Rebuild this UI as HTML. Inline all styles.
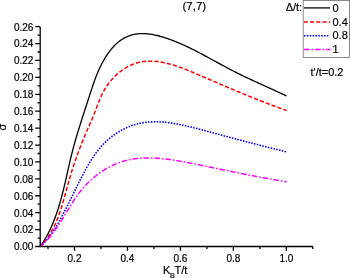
<!DOCTYPE html>
<html><head><meta charset="utf-8"><style>
html,body{margin:0;padding:0;background:#fff;width:350px;height:278px;overflow:hidden}
svg{display:block;will-change:transform}
text{font-family:"Liberation Sans",sans-serif;font-size:10px;fill:#000;stroke:#000;stroke-width:0.2px}
.b{font-size:11px}
</style></head><body>
<svg width="350" height="278" viewBox="0 0 350 278">
<g fill="none" stroke-linejoin="round">
<polyline points="40.31,246.40 40.89,245.56 41.47,244.72 42.03,243.86 42.59,243.01 43.14,242.15 43.68,241.29 44.21,240.42 44.73,239.55 45.25,238.68 45.76,237.81 46.25,236.92 46.74,236.04 47.23,235.15 47.70,234.26 48.17,233.37 48.63,232.47 49.08,231.57 49.53,230.67 49.96,229.76 50.39,228.85 50.82,227.94 51.24,227.02 51.65,226.10 52.05,225.18 52.45,224.26 52.84,223.33 53.22,222.40 53.60,221.47 53.97,220.53 54.34,219.59 54.70,218.65 55.06,217.71 55.41,216.77 55.75,215.82 56.09,214.87 56.43,213.92 56.76,212.96 57.08,212.01 57.40,211.05 57.71,210.09 58.02,209.13 58.33,208.16 58.63,207.20 58.93,206.23 59.22,205.26 59.51,204.29 59.80,203.31 60.08,202.34 60.36,201.36 60.63,200.39 60.90,199.41 61.17,198.43 61.44,197.45 61.70,196.46 61.96,195.48 62.21,194.49 62.47,193.51 62.72,192.52 62.97,191.53 63.21,190.54 63.46,189.55 63.70,188.56 63.94,187.57 64.18,186.58 64.42,185.58 64.65,184.59 64.88,183.60 65.12,182.60 65.35,181.61 65.58,180.61 65.81,179.61 66.03,178.62 66.26,177.62 66.49,176.62 66.71,175.63 66.94,174.63 67.16,173.63 67.39,172.64 67.62,171.64 67.84,170.64 68.07,169.64 68.29,168.65 68.52,167.65 68.74,166.66 68.97,165.66 69.20,164.67 69.43,163.67 69.66,162.68 69.89,161.68 70.12,160.69 70.36,159.70 70.59,158.71 70.83,157.72 71.07,156.73 71.31,155.74 71.55,154.75 71.80,153.76 72.04,152.78 72.29,151.79 72.54,150.81 72.80,149.83 73.05,148.85 73.31,147.87 73.58,146.89 73.84,145.91 74.11,144.94 74.38,143.96 74.65,142.99 74.92,142.01 75.20,141.04 75.48,140.07 75.76,139.10 76.04,138.13 76.32,137.16 76.61,136.19 76.90,135.23 77.19,134.26 77.48,133.29 77.77,132.33 78.07,131.36 78.36,130.40 78.66,129.44 78.96,128.47 79.26,127.51 79.56,126.55 79.86,125.58 80.17,124.62 80.47,123.66 80.78,122.70 81.08,121.73 81.39,120.77 81.70,119.81 82.01,118.85 82.32,117.89 82.63,116.92 82.94,115.96 83.25,115.00 83.57,114.04 83.88,113.07 84.19,112.11 84.50,111.15 84.82,110.18 85.13,109.22 85.45,108.25 85.76,107.29 86.07,106.32 86.39,105.35 86.70,104.39 87.01,103.42 87.33,102.45 87.64,101.48 87.95,100.51 88.26,99.54 88.57,98.56 88.88,97.59 89.20,96.62 89.51,95.64 89.82,94.67 90.13,93.70 90.45,92.72 90.76,91.75 91.08,90.77 91.40,89.80 91.72,88.83 92.04,87.86 92.37,86.89 92.70,85.92 93.03,84.95 93.36,83.98 93.70,83.02 94.04,82.06 94.39,81.10 94.73,80.14 95.09,79.18 95.45,78.23 95.81,77.27 96.18,76.32 96.55,75.38 96.93,74.43 97.32,73.49 97.71,72.56 98.10,71.62 98.51,70.69 98.92,69.77 99.33,68.84 99.76,67.92 100.19,67.01 100.63,66.10 101.08,65.19 101.53,64.29 102.00,63.40 102.47,62.51 102.95,61.62 103.44,60.74 103.94,59.86 104.45,58.99 104.97,58.13 105.49,57.27 106.03,56.42 106.58,55.57 107.14,54.73 107.71,53.89 108.30,53.07 108.89,52.25 109.49,51.43 110.11,50.63 110.74,49.83 111.38,49.04 112.04,48.26 112.71,47.49 113.39,46.74 114.08,45.99 114.80,45.26 115.52,44.55 116.26,43.85 117.02,43.17 117.79,42.50 118.58,41.86 119.38,41.23 120.20,40.62 121.04,40.03 121.90,39.47 122.77,38.93 123.66,38.41 124.57,37.91 125.48,37.44 126.41,37.00 127.35,36.58 128.29,36.19 129.25,35.83 130.21,35.49 131.18,35.18 132.15,34.90 133.12,34.65 134.10,34.43 135.08,34.23 136.06,34.07 137.05,33.92 138.04,33.81 139.03,33.71 140.02,33.65 141.02,33.60 142.01,33.58 143.01,33.58 144.01,33.60 145.01,33.64 146.01,33.70 147.01,33.78 148.02,33.88 149.02,34.00 150.02,34.13 151.02,34.28 152.03,34.45 153.03,34.63 154.03,34.83 155.03,35.04 156.02,35.26 157.02,35.50 158.02,35.74 159.01,36.00 160.00,36.27 160.99,36.55 161.98,36.84 162.96,37.13 163.94,37.44 164.92,37.75 165.90,38.07 166.87,38.39 167.84,38.72 168.80,39.06 169.76,39.40 170.72,39.75 171.68,40.10 172.63,40.46 173.58,40.82 174.53,41.19 175.47,41.57 176.42,41.95 177.36,42.33 178.29,42.72 179.23,43.12 180.16,43.52 181.09,43.92 182.02,44.33 182.95,44.74 183.87,45.16 184.79,45.58 185.71,46.00 186.63,46.43 187.55,46.86 188.46,47.30 189.37,47.74 190.28,48.18 191.19,48.62 192.10,49.07 193.01,49.52 193.91,49.98 194.82,50.43 195.72,50.89 196.62,51.36 197.52,51.82 198.42,52.29 199.32,52.76 200.21,53.23 201.11,53.70 202.00,54.17 202.90,54.65 203.79,55.13 204.68,55.61 205.57,56.09 206.47,56.57 207.36,57.05 208.25,57.54 209.14,58.02 210.03,58.51 210.92,58.99 211.81,59.48 212.70,59.97 213.58,60.45 214.47,60.94 215.36,61.43 216.25,61.92 217.14,62.40 218.03,62.89 218.92,63.38 219.81,63.86 220.71,64.35 221.60,64.83 222.49,65.31 223.38,65.80 224.28,66.28 225.17,66.76 226.07,67.24 226.96,67.71 227.86,68.19 228.76,68.66 229.66,69.14 230.56,69.61 231.46,70.07 232.36,70.54 233.27,71.00 234.17,71.47 235.08,71.92 235.99,72.38 236.90,72.84 237.81,73.29 238.72,73.74 239.63,74.19 240.54,74.64 241.46,75.08 242.37,75.53 243.29,75.97 244.21,76.41 245.12,76.85 246.04,77.29 246.96,77.72 247.88,78.16 248.80,78.59 249.72,79.02 250.64,79.45 251.57,79.89 252.49,80.31 253.41,80.74 254.34,81.17 255.26,81.60 256.19,82.02 257.11,82.45 258.03,82.87 258.96,83.29 259.88,83.72 260.81,84.14 261.74,84.56 262.66,84.98 263.59,85.40 264.51,85.82 265.44,86.24 266.36,86.67 267.29,87.09 268.21,87.51 269.14,87.93 270.06,88.35 270.98,88.77 271.91,89.19 272.83,89.61 273.75,90.03 274.68,90.45 275.60,90.88 276.52,91.30 277.44,91.72 278.36,92.15 279.28,92.57 280.20,93.00 281.11,93.42 282.03,93.85 282.95,94.28 283.86,94.71 284.77,95.14 285.69,95.57 286.60,96.00" stroke="#000" stroke-width="1.3"/>
<polyline points="40.20,246.50 40.87,245.81 41.52,245.12 42.17,244.42 42.80,243.71 43.42,243.00 44.02,242.28 44.62,241.55 45.20,240.82 45.77,240.08 46.34,239.34 46.89,238.59 47.43,237.83 47.96,237.07 48.48,236.30 48.99,235.53 49.49,234.75 49.98,233.97 50.46,233.18 50.93,232.39 51.39,231.59 51.84,230.79 52.29,229.99 52.72,229.17 53.15,228.36 53.57,227.54 53.98,226.71 54.38,225.89 54.78,225.05 55.17,224.22 55.55,223.38 55.92,222.53 56.29,221.69 56.65,220.84 57.01,219.98 57.35,219.12 57.70,218.26 58.03,217.40 58.36,216.53 58.69,215.66 59.01,214.79 59.32,213.92 59.63,213.04 59.93,212.16 60.23,211.27 60.53,210.39 60.82,209.50 61.11,208.61 61.39,207.72 61.67,206.83 61.94,205.93 62.22,205.04 62.49,204.14 62.75,203.24 63.02,202.34 63.28,201.44 63.54,200.53 63.79,199.63 64.05,198.72 64.30,197.82 64.55,196.91 64.80,196.00 65.05,195.10 65.30,194.19 65.54,193.28 65.79,192.37 66.04,191.46 66.28,190.55 66.53,189.64 66.77,188.73 67.02,187.82 67.26,186.92 67.51,186.01 67.76,185.10 68.01,184.19 68.26,183.29 68.51,182.38 68.76,181.48 69.02,180.58 69.27,179.68 69.53,178.78 69.79,177.88 70.06,176.98 70.32,176.08 70.59,175.19 70.86,174.29 71.13,173.40 71.40,172.51 71.68,171.62 71.96,170.73 72.24,169.84 72.52,168.95 72.80,168.07 73.09,167.18 73.38,166.30 73.67,165.41 73.96,164.53 74.25,163.65 74.55,162.77 74.85,161.89 75.15,161.01 75.45,160.14 75.76,159.26 76.06,158.38 76.37,157.51 76.68,156.64 77.00,155.76 77.31,154.89 77.63,154.02 77.95,153.15 78.27,152.28 78.59,151.41 78.92,150.54 79.25,149.67 79.58,148.81 79.91,147.94 80.24,147.07 80.58,146.21 80.91,145.34 81.25,144.48 81.59,143.62 81.94,142.75 82.28,141.89 82.63,141.03 82.98,140.17 83.33,139.31 83.69,138.45 84.04,137.59 84.40,136.73 84.76,135.87 85.12,135.01 85.48,134.15 85.85,133.30 86.21,132.44 86.58,131.58 86.96,130.72 87.33,129.87 87.70,129.01 88.08,128.15 88.46,127.30 88.84,126.44 89.21,125.59 89.59,124.73 89.97,123.87 90.35,123.01 90.72,122.16 91.10,121.30 91.47,120.44 91.84,119.58 92.20,118.72 92.57,117.86 92.93,116.99 93.28,116.13 93.63,115.26 93.98,114.39 94.32,113.53 94.66,112.66 95.00,111.79 95.33,110.92 95.66,110.05 95.99,109.18 96.31,108.30 96.64,107.43 96.97,106.57 97.30,105.70 97.63,104.83 97.96,103.96 98.30,103.10 98.63,102.24 98.98,101.38 99.32,100.52 99.68,99.67 100.03,98.82 100.40,97.97 100.77,97.12 101.14,96.28 101.53,95.44 101.92,94.61 102.33,93.78 102.74,92.96 103.16,92.14 103.60,91.32 104.04,90.51 104.50,89.71 104.97,88.91 105.46,88.12 105.95,87.34 106.46,86.56 106.98,85.78 107.51,85.02 108.05,84.26 108.61,83.51 109.18,82.76 109.76,82.02 110.35,81.29 110.95,80.57 111.57,79.85 112.20,79.15 112.84,78.45 113.49,77.76 114.15,77.07 114.83,76.40 115.52,75.74 116.22,75.08 116.93,74.43 117.65,73.79 118.39,73.17 119.14,72.55 119.90,71.94 120.66,71.34 121.44,70.76 122.23,70.19 123.02,69.63 123.82,69.09 124.63,68.56 125.45,68.05 126.27,67.55 127.10,67.07 127.94,66.61 128.77,66.17 129.61,65.74 130.46,65.34 131.31,64.95 132.16,64.59 133.01,64.25 133.86,63.92 134.72,63.62 135.58,63.33 136.44,63.06 137.31,62.81 138.17,62.58 139.04,62.37 139.91,62.18 140.79,62.00 141.66,61.84 142.54,61.70 143.42,61.57 144.30,61.46 145.18,61.37 146.06,61.29 146.95,61.23 147.84,61.18 148.73,61.15 149.62,61.13 150.51,61.13 151.40,61.14 152.30,61.17 153.19,61.21 154.09,61.26 154.99,61.33 155.89,61.41 156.79,61.50 157.69,61.60 158.59,61.72 159.49,61.85 160.40,61.99 161.30,62.14 162.21,62.30 163.12,62.47 164.02,62.66 164.93,62.85 165.84,63.05 166.75,63.27 167.66,63.49 168.56,63.72 169.47,63.96 170.38,64.21 171.29,64.47 172.20,64.73 173.11,65.01 174.02,65.29 174.93,65.58 175.84,65.87 176.75,66.17 177.66,66.48 178.57,66.80 179.48,67.12 180.39,67.44 181.30,67.77 182.21,68.11 183.11,68.45 184.02,68.80 184.92,69.14 185.83,69.50 186.73,69.86 187.64,70.22 188.54,70.58 189.44,70.95 190.34,71.32 191.24,71.69 192.14,72.06 193.04,72.44 193.94,72.82 194.83,73.20 195.72,73.58 196.62,73.96 197.51,74.34 198.40,74.72 199.29,75.10 200.17,75.48 201.06,75.86 201.94,76.24 202.82,76.62 203.70,77.00 204.58,77.38 205.46,77.76 206.33,78.14 207.21,78.51 208.08,78.89 208.95,79.27 209.82,79.64 210.69,80.02 211.56,80.39 212.43,80.76 213.29,81.14 214.16,81.51 215.02,81.88 215.89,82.25 216.75,82.62 217.61,82.99 218.47,83.36 219.33,83.73 220.19,84.10 221.04,84.47 221.90,84.84 222.76,85.20 223.61,85.57 224.47,85.93 225.32,86.30 226.17,86.66 227.03,87.03 227.88,87.39 228.73,87.75 229.58,88.11 230.43,88.47 231.28,88.83 232.13,89.19 232.98,89.55 233.83,89.91 234.68,90.27 235.53,90.63 236.38,90.98 237.23,91.34 238.08,91.70 238.93,92.05 239.78,92.41 240.63,92.76 241.48,93.11 242.33,93.46 243.17,93.82 244.02,94.17 244.87,94.52 245.72,94.87 246.57,95.22 247.42,95.56 248.28,95.91 249.13,96.26 249.98,96.60 250.83,96.95 251.68,97.29 252.54,97.64 253.39,97.98 254.24,98.33 255.10,98.67 255.95,99.01 256.81,99.35 257.67,99.69 258.53,100.03 259.38,100.37 260.24,100.71 261.10,101.04 261.97,101.38 262.83,101.71 263.69,102.05 264.56,102.38 265.42,102.72 266.29,103.05 267.15,103.38 268.02,103.71 268.89,104.04 269.76,104.37 270.64,104.70 271.51,105.03 272.39,105.36 273.26,105.69 274.14,106.01 275.02,106.34 275.90,106.66 276.78,106.99 277.67,107.31 278.55,107.63 279.44,107.95 280.33,108.28 281.22,108.60 282.11,108.91 283.01,109.23 283.90,109.55 284.80,109.87 285.70,110.18 286.60,110.50" stroke="#ff0000" stroke-width="1.5" stroke-dasharray="4.17 2.1" stroke-dashoffset="0.75"/>
<polyline points="40.30,246.40 40.90,245.88 41.49,245.34 42.07,244.81 42.64,244.26 43.21,243.71 43.77,243.15 44.31,242.58 44.85,242.01 45.39,241.44 45.91,240.85 46.43,240.27 46.94,239.67 47.45,239.07 47.94,238.47 48.43,237.86 48.92,237.25 49.40,236.63 49.87,236.01 50.33,235.38 50.80,234.75 51.25,234.12 51.70,233.48 52.14,232.83 52.58,232.19 53.02,231.54 53.45,230.88 53.87,230.23 54.29,229.57 54.71,228.91 55.12,228.24 55.53,227.57 55.94,226.90 56.34,226.23 56.74,225.56 57.14,224.88 57.53,224.20 57.92,223.52 58.31,222.84 58.69,222.16 59.07,221.47 59.46,220.79 59.83,220.10 60.21,219.41 60.59,218.72 60.96,218.04 61.33,217.35 61.70,216.66 62.07,215.97 62.44,215.27 62.81,214.58 63.17,213.89 63.54,213.19 63.90,212.50 64.26,211.81 64.62,211.11 64.98,210.41 65.34,209.72 65.69,209.02 66.05,208.32 66.41,207.62 66.76,206.93 67.11,206.23 67.47,205.53 67.82,204.83 68.17,204.13 68.52,203.43 68.87,202.72 69.22,202.02 69.57,201.32 69.92,200.62 70.27,199.92 70.62,199.21 70.97,198.51 71.31,197.80 71.66,197.10 72.01,196.40 72.36,195.69 72.71,194.99 73.05,194.28 73.40,193.58 73.75,192.87 74.10,192.17 74.44,191.46 74.79,190.75 75.14,190.05 75.49,189.34 75.84,188.64 76.19,187.93 76.54,187.22 76.89,186.52 77.24,185.81 77.60,185.11 77.95,184.40 78.30,183.69 78.66,182.99 79.01,182.28 79.37,181.57 79.73,180.87 80.08,180.16 80.44,179.46 80.80,178.75 81.17,178.05 81.53,177.34 81.89,176.63 82.26,175.93 82.62,175.23 82.99,174.52 83.36,173.82 83.73,173.11 84.11,172.41 84.48,171.71 84.86,171.01 85.24,170.31 85.62,169.61 86.00,168.92 86.39,168.22 86.77,167.53 87.16,166.83 87.56,166.14 87.95,165.45 88.35,164.77 88.75,164.08 89.16,163.40 89.57,162.72 89.98,162.04 90.39,161.36 90.81,160.69 91.23,160.02 91.65,159.35 92.08,158.68 92.51,158.02 92.95,157.36 93.39,156.70 93.83,156.05 94.28,155.40 94.73,154.75 95.19,154.11 95.65,153.47 96.12,152.83 96.58,152.20 97.06,151.57 97.54,150.95 98.02,150.33 98.51,149.71 99.01,149.10 99.51,148.49 100.01,147.89 100.52,147.29 101.04,146.70 101.56,146.11 102.08,145.53 102.62,144.95 103.15,144.38 103.70,143.81 104.25,143.25 104.81,142.69 105.37,142.14 105.94,141.59 106.51,141.05 107.09,140.52 107.68,139.99 108.27,139.47 108.87,138.95 109.47,138.44 110.08,137.94 110.70,137.44 111.32,136.95 111.94,136.46 112.57,135.99 113.21,135.52 113.85,135.05 114.50,134.59 115.15,134.14 115.80,133.70 116.46,133.26 117.12,132.83 117.79,132.41 118.46,131.99 119.14,131.58 119.82,131.18 120.50,130.79 121.19,130.41 121.88,130.03 122.58,129.66 123.28,129.30 123.98,128.94 124.69,128.59 125.40,128.26 126.11,127.93 126.82,127.60 127.54,127.29 128.26,126.99 128.98,126.69 129.71,126.40 130.44,126.12 131.17,125.85 131.90,125.59 132.64,125.34 133.37,125.09 134.11,124.86 134.85,124.63 135.60,124.41 136.34,124.21 137.09,124.01 137.83,123.82 138.58,123.64 139.33,123.47 140.09,123.31 140.84,123.15 141.59,123.01 142.35,122.88 143.11,122.75 143.86,122.63 144.62,122.52 145.39,122.42 146.15,122.33 146.91,122.24 147.68,122.17 148.44,122.10 149.21,122.04 149.97,121.98 150.74,121.94 151.51,121.90 152.28,121.87 153.06,121.84 153.83,121.82 154.60,121.81 155.37,121.81 156.15,121.81 156.93,121.82 157.70,121.84 158.48,121.86 159.26,121.89 160.04,121.93 160.81,121.97 161.59,122.02 162.37,122.07 163.16,122.13 163.94,122.19 164.72,122.26 165.50,122.34 166.28,122.42 167.07,122.51 167.85,122.60 168.64,122.69 169.42,122.80 170.21,122.90 170.99,123.01 171.78,123.13 172.56,123.25 173.35,123.37 174.13,123.50 174.92,123.63 175.70,123.77 176.49,123.91 177.28,124.05 178.06,124.20 178.85,124.35 179.64,124.50 180.42,124.66 181.21,124.82 181.99,124.98 182.78,125.15 183.57,125.32 184.35,125.49 185.14,125.67 185.92,125.85 186.71,126.03 187.49,126.21 188.28,126.39 189.06,126.58 189.84,126.77 190.63,126.96 191.41,127.15 192.19,127.35 192.97,127.54 193.75,127.74 194.53,127.94 195.31,128.14 196.09,128.34 196.87,128.54 197.65,128.74 198.42,128.95 199.20,129.15 199.98,129.36 200.75,129.56 201.53,129.77 202.30,129.98 203.07,130.18 203.84,130.39 204.61,130.59 205.38,130.80 206.15,131.00 206.92,131.21 207.69,131.42 208.45,131.62 209.22,131.83 209.98,132.03 210.74,132.24 211.51,132.44 212.27,132.64 213.03,132.85 213.79,133.05 214.55,133.25 215.31,133.46 216.07,133.66 216.82,133.86 217.58,134.07 218.34,134.27 219.09,134.47 219.85,134.68 220.60,134.88 221.36,135.08 222.11,135.28 222.86,135.48 223.62,135.68 224.37,135.89 225.12,136.09 225.87,136.29 226.62,136.49 227.38,136.69 228.13,136.89 228.88,137.09 229.63,137.29 230.38,137.49 231.13,137.69 231.87,137.89 232.62,138.09 233.37,138.29 234.12,138.49 234.87,138.69 235.62,138.89 236.37,139.08 237.11,139.28 237.86,139.48 238.61,139.68 239.36,139.88 240.11,140.08 240.86,140.27 241.60,140.47 242.35,140.67 243.10,140.87 243.85,141.06 244.60,141.26 245.35,141.46 246.10,141.65 246.85,141.85 247.59,142.05 248.34,142.24 249.09,142.44 249.84,142.64 250.60,142.83 251.35,143.03 252.10,143.22 252.85,143.42 253.60,143.61 254.35,143.81 255.11,144.00 255.86,144.20 256.61,144.39 257.37,144.59 258.12,144.78 258.88,144.98 259.63,145.17 260.39,145.37 261.15,145.56 261.90,145.75 262.66,145.95 263.42,146.14 264.18,146.33 264.94,146.53 265.70,146.72 266.46,146.91 267.23,147.11 267.99,147.30 268.75,147.49 269.52,147.69 270.29,147.88 271.05,148.07 271.82,148.26 272.59,148.46 273.36,148.65 274.13,148.84 274.90,149.03 275.67,149.22 276.45,149.42 277.22,149.61 278.00,149.80 278.77,149.99 279.55,150.18 280.33,150.37 281.11,150.57 281.89,150.76 282.67,150.95 283.46,151.14 284.24,151.33 285.03,151.52 285.81,151.71 286.60,151.90" stroke="#0000ff" stroke-width="1.55" stroke-dasharray="1.55 1.31"/>
<polyline points="40.30,246.40 40.87,245.94 41.42,245.47 41.97,244.99 42.52,244.51 43.05,244.03 43.58,243.54 44.11,243.04 44.63,242.55 45.14,242.04 45.65,241.53 46.15,241.02 46.65,240.51 47.14,239.99 47.63,239.46 48.11,238.94 48.59,238.40 49.06,237.87 49.53,237.33 49.99,236.79 50.45,236.24 50.90,235.69 51.35,235.14 51.80,234.58 52.24,234.02 52.68,233.46 53.11,232.89 53.54,232.32 53.97,231.75 54.39,231.18 54.81,230.60 55.23,230.02 55.64,229.44 56.05,228.85 56.46,228.27 56.86,227.68 57.26,227.09 57.66,226.49 58.06,225.90 58.45,225.30 58.85,224.70 59.24,224.10 59.62,223.50 60.01,222.89 60.40,222.29 60.78,221.68 61.16,221.07 61.54,220.46 61.92,219.85 62.30,219.24 62.67,218.63 63.05,218.01 63.42,217.40 63.80,216.78 64.17,216.17 64.54,215.55 64.91,214.94 65.29,214.32 65.66,213.70 66.03,213.08 66.40,212.47 66.77,211.85 67.15,211.23 67.52,210.61 67.89,209.99 68.27,209.38 68.64,208.76 69.02,208.14 69.39,207.53 69.77,206.91 70.15,206.30 70.53,205.69 70.91,205.07 71.29,204.46 71.68,203.85 72.06,203.24 72.45,202.63 72.84,202.03 73.23,201.42 73.63,200.82 74.02,200.21 74.42,199.61 74.82,199.01 75.23,198.42 75.63,197.82 76.04,197.23 76.46,196.64 76.87,196.05 77.29,195.46 77.71,194.87 78.14,194.29 78.57,193.71 79.00,193.14 79.44,192.56 79.88,191.99 80.33,191.42 80.77,190.85 81.23,190.29 81.68,189.73 82.15,189.18 82.61,188.62 83.08,188.07 83.56,187.52 84.04,186.98 84.52,186.44 85.01,185.91 85.51,185.37 86.00,184.84 86.51,184.32 87.01,183.80 87.52,183.28 88.04,182.77 88.56,182.26 89.08,181.75 89.61,181.25 90.14,180.75 90.67,180.25 91.21,179.76 91.75,179.28 92.30,178.80 92.85,178.32 93.40,177.85 93.96,177.38 94.52,176.92 95.08,176.46 95.65,176.00 96.22,175.55 96.80,175.10 97.38,174.66 97.96,174.23 98.54,173.80 99.13,173.37 99.72,172.95 100.32,172.53 100.91,172.12 101.51,171.71 102.12,171.31 102.72,170.91 103.33,170.52 103.95,170.14 104.56,169.76 105.18,169.38 105.80,169.01 106.42,168.65 107.05,168.29 107.68,167.93 108.31,167.59 108.94,167.24 109.58,166.91 110.22,166.58 110.86,166.25 111.50,165.93 112.15,165.62 112.79,165.31 113.44,165.01 114.10,164.72 114.75,164.43 115.41,164.14 116.06,163.87 116.72,163.60 117.39,163.33 118.05,163.07 118.72,162.82 119.38,162.58 120.05,162.34 120.72,162.11 121.40,161.88 122.07,161.66 122.75,161.45 123.42,161.25 124.10,161.05 124.78,160.86 125.46,160.67 126.15,160.49 126.83,160.32 127.52,160.16 128.20,160.00 128.89,159.85 129.58,159.70 130.27,159.56 130.96,159.43 131.66,159.30 132.35,159.18 133.05,159.07 133.74,158.96 134.44,158.85 135.14,158.76 135.84,158.67 136.54,158.58 137.24,158.50 137.95,158.42 138.65,158.35 139.36,158.29 140.06,158.23 140.77,158.18 141.48,158.13 142.19,158.09 142.89,158.05 143.61,158.01 144.32,157.98 145.03,157.96 145.74,157.94 146.45,157.93 147.17,157.92 147.88,157.91 148.60,157.91 149.32,157.92 150.03,157.92 150.75,157.94 151.47,157.95 152.19,157.97 152.91,158.00 153.63,158.03 154.35,158.06 155.07,158.09 155.79,158.14 156.51,158.18 157.23,158.23 157.96,158.28 158.68,158.33 159.40,158.39 160.13,158.45 160.85,158.52 161.58,158.58 162.30,158.65 163.03,158.73 163.75,158.81 164.48,158.89 165.20,158.97 165.93,159.05 166.65,159.14 167.38,159.23 168.11,159.33 168.83,159.42 169.56,159.52 170.28,159.62 171.01,159.73 171.74,159.83 172.46,159.94 173.19,160.05 173.92,160.16 174.64,160.28 175.37,160.39 176.09,160.51 176.82,160.63 177.54,160.75 178.27,160.87 178.99,161.00 179.72,161.12 180.44,161.25 181.17,161.38 181.89,161.51 182.62,161.64 183.34,161.77 184.06,161.91 184.78,162.04 185.51,162.18 186.23,162.31 186.95,162.45 187.67,162.59 188.39,162.73 189.11,162.87 189.83,163.01 190.55,163.15 191.26,163.29 191.98,163.43 192.70,163.57 193.41,163.71 194.13,163.85 194.84,163.99 195.56,164.13 196.27,164.28 196.99,164.42 197.70,164.56 198.41,164.70 199.12,164.85 199.83,164.99 200.54,165.13 201.25,165.27 201.96,165.42 202.67,165.56 203.38,165.70 204.09,165.85 204.79,165.99 205.50,166.14 206.21,166.28 206.91,166.42 207.62,166.57 208.32,166.71 209.03,166.86 209.73,167.00 210.43,167.15 211.14,167.29 211.84,167.43 212.54,167.58 213.25,167.72 213.95,167.87 214.65,168.01 215.35,168.16 216.05,168.30 216.75,168.45 217.46,168.59 218.16,168.74 218.86,168.88 219.56,169.03 220.26,169.17 220.96,169.32 221.65,169.46 222.35,169.60 223.05,169.75 223.75,169.89 224.45,170.04 225.15,170.18 225.85,170.33 226.55,170.47 227.24,170.61 227.94,170.76 228.64,170.90 229.34,171.05 230.04,171.19 230.73,171.33 231.43,171.48 232.13,171.62 232.83,171.76 233.52,171.91 234.22,172.05 234.92,172.19 235.62,172.34 236.31,172.48 237.01,172.62 237.71,172.76 238.41,172.90 239.10,173.05 239.80,173.19 240.50,173.33 241.20,173.47 241.90,173.61 242.60,173.75 243.29,173.89 243.99,174.03 244.69,174.17 245.39,174.31 246.09,174.45 246.79,174.59 247.49,174.73 248.19,174.87 248.89,175.01 249.59,175.15 250.29,175.28 250.99,175.42 251.69,175.56 252.39,175.70 253.09,175.83 253.80,175.97 254.50,176.11 255.20,176.24 255.90,176.38 256.61,176.51 257.31,176.65 258.01,176.78 258.72,176.91 259.42,177.05 260.13,177.18 260.83,177.31 261.54,177.45 262.25,177.58 262.95,177.71 263.66,177.84 264.37,177.97 265.08,178.10 265.79,178.23 266.49,178.36 267.20,178.49 267.91,178.62 268.63,178.75 269.34,178.88 270.05,179.01 270.76,179.13 271.47,179.26 272.19,179.39 272.90,179.51 273.62,179.64 274.33,179.76 275.05,179.89 275.77,180.01 276.48,180.13 277.20,180.25 277.92,180.38 278.64,180.50 279.36,180.62 280.08,180.74 280.80,180.86 281.52,180.98 282.25,181.10 282.97,181.22 283.70,181.33 284.42,181.45 285.15,181.57 285.87,181.68 286.60,181.80" stroke="#ff00ff" stroke-width="1.5" stroke-dasharray="5.5 1.95 1.6 1.95" stroke-dashoffset="0.9"/>
</g>
<g fill="none" stroke="#000" stroke-width="1.3">
<path d="M40.2 26.65V246.5H312.8M40.2 246.50H35.20M40.2 238.04H37.60M40.2 229.59H35.20M40.2 221.13H37.60M40.2 212.68H35.20M40.2 204.22H37.60M40.2 195.76H35.20M40.2 187.31H37.60M40.2 178.85H35.20M40.2 170.40H37.60M40.2 161.94H35.20M40.2 153.48H37.60M40.2 145.03H35.20M40.2 136.57H37.60M40.2 128.12H35.20M40.2 119.66H37.60M40.2 111.20H35.20M40.2 102.75H37.60M40.2 94.29H35.20M40.2 85.84H37.60M40.2 77.38H35.20M40.2 68.92H37.60M40.2 60.47H35.20M40.2 52.01H37.60M40.2 43.56H35.20M40.2 35.10H37.60M40.2 26.64H35.20M48.02 246.5V248.90M74.50 246.5V250.80M100.98 246.5V248.90M127.46 246.5V250.80M153.94 246.5V248.90M180.42 246.5V250.80M206.90 246.5V248.90M233.38 246.5V250.80M259.86 246.5V248.90M286.34 246.5V250.80M312.82 246.5V248.90"/>
</g>
<text x="33.4" y="250.40" text-anchor="end">0.00</text><text x="33.4" y="233.49" text-anchor="end">0.02</text><text x="33.4" y="216.58" text-anchor="end">0.04</text><text x="33.4" y="199.66" text-anchor="end">0.06</text><text x="33.4" y="182.75" text-anchor="end">0.08</text><text x="33.4" y="165.84" text-anchor="end">0.10</text><text x="33.4" y="148.93" text-anchor="end">0.12</text><text x="33.4" y="132.02" text-anchor="end">0.14</text><text x="33.4" y="115.10" text-anchor="end">0.16</text><text x="33.4" y="98.19" text-anchor="end">0.18</text><text x="33.4" y="81.28" text-anchor="end">0.20</text><text x="33.4" y="64.37" text-anchor="end">0.22</text><text x="33.4" y="47.46" text-anchor="end">0.24</text><text x="33.4" y="30.54" text-anchor="end">0.26</text>
<text x="74.50" y="261.9" text-anchor="middle">0.2</text><text x="127.46" y="261.9" text-anchor="middle">0.4</text><text x="180.42" y="261.9" text-anchor="middle">0.6</text><text x="233.38" y="261.9" text-anchor="middle">0.8</text><text x="286.34" y="261.9" text-anchor="middle">1.0</text>
<text class="b" x="182.5" y="10" style="font-size:11.5px">(7,7)</text>
<text class="b" x="163" y="273.7">K</text><text x="169.9" y="277.6" style="font-size:7.3px">B</text><text class="b" x="174.6" y="273.7">T/t</text>
<text class="b" transform="translate(6.4,127) rotate(-90)" text-anchor="middle">σ</text>
<rect x="303.2" y="0.5" width="46.3" height="57" fill="none" stroke="#888" stroke-width="1"/>
<text class="b" x="302.2" y="10.8" text-anchor="end">Δ/t:</text>
<g fill="none">
<path d="M304 7.9H330" stroke="#000" stroke-width="1.3"/>
<path d="M303.9 21.9H330.3" stroke="#ff0000" stroke-width="1.5" stroke-dasharray="4 2.2"/>
<path d="M304 35.7H329" stroke="#0000ff" stroke-width="1.55" stroke-dasharray="1.55 1.31"/>
<path d="M304 49.4H330.4" stroke="#ff00ff" stroke-width="1.5" stroke-dasharray="5.6 1.9 1.7 1.9"/>
</g>
<text class="b" x="332.5" y="11.7">0</text>
<text class="b" x="332.5" y="25.6">0.4</text>
<text class="b" x="332.5" y="39.3">0.8</text>
<text class="b" x="332.5" y="53">1</text>
<text class="b" x="310.5" y="76">t'/t=0.2</text>
</svg>
</body></html>
